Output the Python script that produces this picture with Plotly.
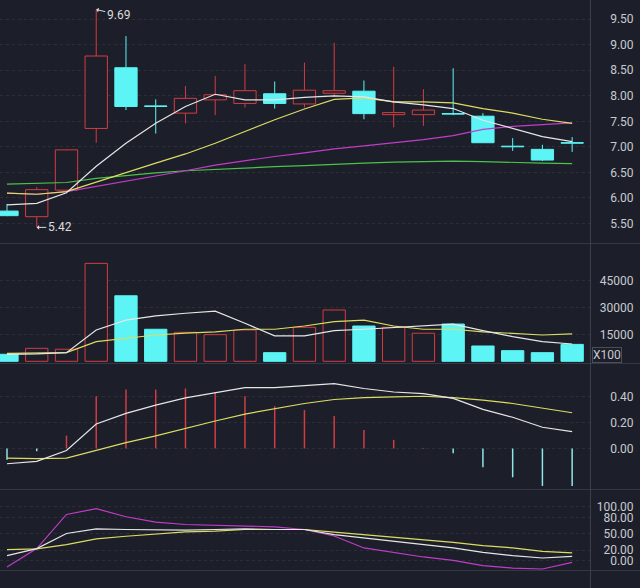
import plotly.graph_objects as go

# ---------------- data ----------------
idx = list(range(20))
open_ = [5.74, 5.63, 6.15, 7.36, 8.55, 7.80, 7.66, 7.92, 7.85, 8.04,
         7.84, 8.05, 8.09, 7.63, 7.63, 7.65, 7.60, 7.01, 6.95, 7.08]
close = [5.65, 6.16, 6.94, 8.78, 7.79, 7.79, 7.95, 8.02, 8.10, 7.85,
         8.11, 8.10, 7.65, 7.67, 7.72, 7.64, 7.08, 7.00, 6.74, 7.07]
high = [5.88, 6.21, 6.95, 9.69, 9.17, 7.93, 8.19, 8.39, 8.62, 8.28,
        8.65, 9.04, 8.30, 8.57, 8.13, 8.54, 7.66, 7.17, 7.04, 7.19]
low = [5.64, 5.42, 6.14, 7.08, 7.72, 7.26, 7.46, 7.62, 7.77, 7.75,
       7.77, 7.98, 7.54, 7.38, 7.41, 7.62, 7.08, 6.92, 6.72, 6.90]

ma5 = [5.86, 5.89, 6.10, 6.62, 7.07, 7.46, 7.79, 8.03, 7.92, 7.92,
       7.97, 8.00, 7.98, 7.88, 7.82, 7.75, 7.52, 7.36, 7.20, 7.10]
ma10 = [6.09, 6.07, 6.12, 6.31, 6.49, 6.68, 6.86, 7.07, 7.30, 7.53,
        7.74, 7.93, 7.96, 7.88, 7.88, 7.86, 7.75, 7.66, 7.54, 7.46]
ma20 = [6.09, 6.07, 6.12, 6.22, 6.33, 6.43, 6.53, 6.64, 6.73, 6.81,
        6.88, 6.96, 7.02, 7.08, 7.14, 7.22, 7.34, 7.40, 7.44, 7.47]
ma60 = [6.27, 6.28, 6.30, 6.38, 6.44, 6.49, 6.53, 6.56, 6.59, 6.61,
        6.63, 6.66, 6.68, 6.70, 6.71, 6.72, 6.71, 6.69, 6.68, 6.67]

vol = [3900, 7200, 6700, 54400, 36400, 17800, 16100, 14800, 17400, 4800,
       18900, 28500, 19600, 18900, 15600, 20700, 8500, 5900, 4800, 9400]
vol_ma5 = [3900, 4100, 4800, 17400, 22900, 25200, 26700, 27900, 21100, 14100,
           14100, 17000, 17800, 18700, 19800, 20600, 17000, 13700, 10900, 9600]
vol_ma10 = [4400, 4400, 4800, 10900, 12800, 14600, 15600, 16400, 17800, 17800,
            19600, 22000, 22900, 19600, 17800, 17800, 16400, 15600, 14600, 15200]

dif = [-0.118, -0.100, -0.015, 0.190, 0.272, 0.336, 0.392, 0.434, 0.472, 0.472,
       0.490, 0.503, 0.465, 0.438, 0.426, 0.388, 0.303, 0.242, 0.165, 0.131]
dea = [-0.074, -0.079, -0.074, -0.015, 0.046, 0.098, 0.157, 0.213, 0.267, 0.311,
       0.349, 0.380, 0.395, 0.400, 0.405, 0.395, 0.375, 0.349, 0.311, 0.277]
macd = [-0.088, -0.021, 0.10, 0.405, 0.457, 0.457, 0.465, 0.434, 0.405, 0.328,
        0.298, 0.252, 0.144, 0.067, 0.005, -0.036, -0.146, -0.223, -0.29, -0.29]

k_line = [9.8, 22.8, 50.6, 59.3, 58.0, 56.7, 56.7, 58.0, 59.3, 58.0,
          58.0, 48.7, 42.6, 36.3, 30.2, 24.1, 16.0, 9.8, 5.5, 8.5]
d_line = [20.9, 22.2, 30.2, 40.7, 45.6, 50.0, 53.7, 54.9, 58.0, 58.0,
          58.0, 53.0, 48.7, 44.4, 39.4, 34.4, 28.3, 24.1, 17.8, 14.8]
j_line = [-11.0, 22.8, 85.7, 96.3, 81.5, 71.5, 67.2, 66.0, 65.4, 63.0,
          58.0, 46.0, 24.0, 15.0, 7.4, 1.2, -8.7, -13.0, -14.8, -2.5]

price_ticks = [5.5, 6.0, 6.5, 7.0, 7.5, 8.0, 8.5, 9.0, 9.5]
vol_ticks = [15000, 30000, 45000]
macd_ticks = [0.0, 0.2, 0.4]
kdj_ticks = [0, 20, 50, 80, 100]

# ---------------- style ----------------
BG = '#1c1f29'
RED = '#d43c42'
CYAN = '#5cf4f4'
WHITE = '#e6e6e6'
YELLOW = '#dcdc62'
MAGENTA = '#c23cc8'
GREEN = '#4cc24c'
TXT = '#c8cad0'
SEP = '#343845'
FONT = 'Roboto'
H = 588.0
W = 640.0

def pd(y):
    return 1 - y / H

up = [c >= o for o, c in zip(open_, close)]
body_base = [min(o, c) for o, c in zip(open_, close)]
body_h = [max(abs(c - o), 0.012) for o, c in zip(open_, close)]
fill = [BG if u else CYAN for u in up]
edge = [RED if u else CYAN for u in up]

fig = go.Figure()

# wicks (drawn outside the body)
for color, flag in ((RED, True), (CYAN, False)):
    xs, ys = [], []
    for i in idx:
        if up[i] != flag:
            continue
        lo_b, hi_b = body_base[i], body_base[i] + body_h[i]
        xs += [i, i, None, i, i, None]
        ys += [low[i], lo_b, None, hi_b, high[i], None]
    fig.add_trace(go.Scatter(x=xs, y=ys, mode='lines', line=dict(color=color, width=1),
                             xaxis='x', yaxis='y', hoverinfo='skip', showlegend=False))

fig.add_trace(go.Bar(x=idx, y=body_h, base=body_base, width=0.75,
                     marker=dict(color=fill, line=dict(color=edge, width=1)),
                     xaxis='x', yaxis='y', showlegend=False))

for arr, col in ((ma60, GREEN), (ma20, MAGENTA), (ma10, YELLOW), (ma5, WHITE)):
    fig.add_trace(go.Scatter(x=idx, y=arr, mode='lines', line=dict(color=col, width=1.2),
                             xaxis='x', yaxis='y', showlegend=False))

# volume
fig.add_trace(go.Bar(x=idx, y=vol, width=0.75,
                     marker=dict(color=fill, line=dict(color=edge, width=1)),
                     xaxis='x2', yaxis='y2', showlegend=False))
fig.add_trace(go.Scatter(x=idx, y=vol_ma10, mode='lines', line=dict(color=YELLOW, width=1.2),
                         xaxis='x2', yaxis='y2', showlegend=False))
fig.add_trace(go.Scatter(x=idx, y=vol_ma5, mode='lines', line=dict(color=WHITE, width=1.2),
                         xaxis='x2', yaxis='y2', showlegend=False))

# MACD
fig.add_trace(go.Bar(x=idx, y=macd, width=0.05,
                     marker=dict(color=[RED if v >= 0 else '#8fe6ea' for v in macd], line=dict(width=0)),
                     xaxis='x3', yaxis='y3', showlegend=False))
fig.add_trace(go.Scatter(x=idx, y=dea, mode='lines', line=dict(color=YELLOW, width=1.2),
                         xaxis='x3', yaxis='y3', showlegend=False))
fig.add_trace(go.Scatter(x=idx, y=dif, mode='lines', line=dict(color=WHITE, width=1.2),
                         xaxis='x3', yaxis='y3', showlegend=False))

# KDJ
fig.add_trace(go.Scatter(x=idx, y=j_line, mode='lines', line=dict(color=MAGENTA, width=1.2),
                         xaxis='x4', yaxis='y4', showlegend=False))
fig.add_trace(go.Scatter(x=idx, y=d_line, mode='lines', line=dict(color=YELLOW, width=1.2),
                         xaxis='x4', yaxis='y4', showlegend=False))
fig.add_trace(go.Scatter(x=idx, y=k_line, mode='lines', line=dict(color=WHITE, width=1.2),
                         xaxis='x4', yaxis='y4', showlegend=False))

xr = [-0.235, 19.6]
xdom = [0, 590 / W]
xcommon = dict(range=xr, domain=xdom, showgrid=False, zeroline=False,
               showticklabels=False, ticks='', showline=False, fixedrange=True)

def yax(dom, rng, ticks, fmt):
    return dict(domain=dom, range=rng, tickvals=ticks, ticktext=[fmt(t) for t in ticks],
                anchor='free', position=0.99, side='left', ticks='', showline=False,
                zeroline=False, showgrid=True, gridcolor='rgba(255,255,255,0.07)',
                griddash='dot', gridwidth=1, automargin=False, fixedrange=True,
                tickfont=dict(family=FONT, size=12, color=TXT))

layout = dict(
    width=640, height=588, template='none',
    paper_bgcolor=BG, plot_bgcolor=BG,
    margin=dict(l=0, r=0, t=0, b=0),
    barmode='overlay', showlegend=False,
    xaxis=dict(anchor='y', **xcommon),
    xaxis2=dict(anchor='y2', **xcommon),
    xaxis3=dict(anchor='y3', **xcommon),
    xaxis4=dict(anchor='y4', **xcommon),
    yaxis=yax([pd(243), 1], [5.114, 9.878], price_ticks, lambda t: f'{t:.2f}'),
    yaxis2=yax([pd(363), pd(244)], [-944, 65170], vol_ticks, lambda t: f'{t:d}'),
    yaxis3=yax([pd(488), pd(364)], [-0.306, 0.655], macd_ticks, lambda t: f'{t:.2f}'),
    yaxis4=yax([pd(570), pd(491)], [-16.6, 128.9], kdj_ticks, lambda t: f'{t:.2f}'),
)
fig.update_layout(**layout)

shapes = []
for yy in (243.5, 363.5, 489.5, 570.5):
    shapes.append(dict(type='line', xref='paper', yref='paper', x0=0, x1=1,
                       y0=pd(yy), y1=pd(yy), line=dict(color=SEP, width=1)))
shapes.append(dict(type='line', xref='paper', yref='paper', x0=590.5 / W, x1=590.5 / W,
                   y0=0, y1=1, line=dict(color='#3c404c', width=1)))
fig.update_layout(shapes=shapes)

ann_font = dict(family=FONT, size=12, color='#dcdcdc')
fig.add_annotation(x=3, y=high[3], xref='x', yref='y', text=f'{high[3]:.2f}',
                   showarrow=True, ax=22, ay=5, arrowhead=1, arrowsize=0.8, arrowwidth=1,
                   arrowcolor='#dcdcdc', standoff=0, font=ann_font)
fig.add_annotation(x=1, y=low[1], xref='x', yref='y', text=f'{low[1]:.2f}',
                   showarrow=True, ax=23, ay=0, arrowhead=1, arrowsize=0.8, arrowwidth=1,
                   arrowcolor='#dcdcdc', standoff=0, font=ann_font)
fig.add_annotation(x=592 / W, y=pd(355), xref='paper', yref='paper', text='X100',
                   showarrow=False, xanchor='left', yanchor='middle',
                   bordercolor='#4a4e5a', borderwidth=1, borderpad=0,
                   font=dict(family=FONT, size=12, color=TXT))

fig.write_html('out.html', config={'displayModeBar': False, 'staticPlot': True},
               post_script="document.body.style.margin='0';document.body.style.overflow='hidden';"
                           "document.documentElement.style.background='" + BG + "';")
